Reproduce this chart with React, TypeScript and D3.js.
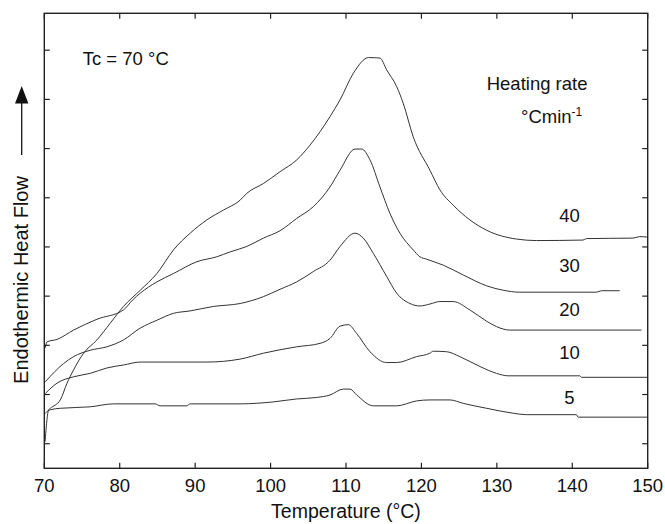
import React from "react";
import * as d3 from "d3";

type Pt = [number, number];

// Temperature (°C) vs endothermic heat flow (arbitrary units, 1 unit = 1 y-tick spacing)
const rate40: Pt[] = [
  [70.1, 0.54], [70.57, 1.19], [70.79, 1.22], [72.12, 1.39], [73.01, 1.73], [73.88, 2.0],
  [75.21, 2.34], [76.98, 2.61], [78.74, 2.95], [80.5, 3.29], [82.72, 3.62], [84.93, 3.96],
  [87.13, 4.44], [89.34, 4.78], [91.55, 5.05], [93.75, 5.25], [95.96, 5.45], [96.85, 5.59],
  [99.05, 5.79], [101.26, 6.03], [103.47, 6.27], [105.23, 6.57], [107.88, 7.15], [109.21, 7.49],
  [110.97, 8.03], [113.0, 8.35], [114.5, 8.34], [115.39, 8.1], [116.72, 7.76], [117.59, 7.42],
  [118.91, 6.74], [121.13, 6.06], [122.45, 5.66], [124.21, 5.35], [126.42, 5.05], [128.64, 4.84],
  [132.61, 4.66], [135.26, 4.63], [141.43, 4.64], [141.88, 4.67], [148.05, 4.68], [148.94, 4.71],
  [150, 4.7],
];
const rate30: Pt[] = [
  [70.13, 2.45], [70.36, 2.57], [71.68, 2.62], [73.88, 2.81], [76.98, 3.03], [80.5, 3.22],
  [81.7, 3.42], [82.72, 3.56], [84.93, 3.79], [87.13, 3.96], [90.23, 4.2], [92.87, 4.3],
  [94.64, 4.4], [96.85, 4.51], [99.05, 4.68], [101.26, 4.83], [103.47, 5.08], [105.67, 5.32],
  [107.88, 5.72], [109.21, 6.06], [111.19, 6.49], [112.08, 6.49], [113.18, 6.27], [114.5, 5.72],
  [115.83, 5.18], [117.15, 4.78], [118.91, 4.44], [119.8, 4.3], [120.69, 4.25], [122.89, 4.13],
  [125.54, 3.93], [128.64, 3.71], [130.83, 3.62], [133.05, 3.58], [143.21, 3.58], [143.87, 3.61],
  [146.29, 3.61],
];
const rate20: Pt[] = [
  [70.13, 1.76], [72.56, 2.13], [73.88, 2.27], [76.09, 2.4], [78.3, 2.47], [80.5, 2.61],
  [82.72, 2.85], [84.93, 3.01], [87.13, 3.15], [89.34, 3.2], [92.42, 3.29], [95.96, 3.35],
  [99.05, 3.49], [101.26, 3.64], [103.47, 3.79], [105.67, 4.0], [107.88, 4.23], [109.21, 4.51],
  [111.19, 4.78], [112.29, 4.68], [113.62, 4.37], [115.39, 3.9], [116.72, 3.56], [118.48, 3.35],
  [119.8, 3.3], [121.13, 3.34], [122.45, 3.39], [124.21, 3.39], [126.42, 3.22], [128.64, 2.99],
  [129.96, 2.88], [131.72, 2.81], [149.17, 2.81],
];
const rate10: Pt[] = [
  [70.13, 1.52], [71.68, 1.73], [73.88, 1.86], [76.09, 1.93], [78.3, 2.04], [80.5, 2.1],
  [82.72, 2.16], [91.55, 2.16], [95.96, 2.22], [99.05, 2.34], [103.47, 2.47], [106.56, 2.54],
  [107.88, 2.64], [109.21, 2.89], [110.3, 2.92], [111.42, 2.74], [113.18, 2.37], [115.39, 2.15],
  [116.72, 2.15], [119.36, 2.27], [121.13, 2.34], [121.56, 2.38], [123.34, 2.37], [125.1, 2.27],
  [127.75, 2.07], [129.96, 1.93], [131.5, 1.88], [140.99, 1.88], [141.22, 1.85], [150, 1.85],
];
const rate5: Pt[] = [
  [70.13, 1.12], [70.79, 1.19], [72.12, 1.22], [76.09, 1.25], [79.18, 1.31], [84.7, 1.31],
  [85.36, 1.27], [88.9, 1.27], [89.34, 1.31], [95.96, 1.31], [100.37, 1.35], [103.47, 1.41],
  [106.12, 1.44], [107.88, 1.49], [109.64, 1.61], [110.53, 1.61], [111.42, 1.49], [113.62, 1.27],
  [116.72, 1.27], [119.36, 1.37], [121.13, 1.39], [123.77, 1.39], [125.54, 1.32], [128.64, 1.22],
  [132.16, 1.12], [133.94, 1.09], [140.56, 1.09], [140.77, 1.04], [150, 1.04],
];

const seriesList = [rate40, rate30, rate20, rate10, rate5];
const rateLabels = ["40", "30", "20", "10", "5"];
const rateLabelY = [5.0, 4.0, 3.1, 2.23, 1.3];

const xTicks = [70, 80, 90, 100, 110, 120, 130, 140, 150];
const yTicks = [0.5, 1.5, 2.5, 3.5, 4.5, 5.5, 6.5, 7.5, 8.5];

const W = 665;
const H = 524;
const L = 44.3, R = 647.7, T = 13.3, B = 468.3;
const FONT = "'Liberation Sans', Arial, Helvetica, sans-serif";

export default function App() {
  const x = d3.scaleLinear().domain([70, 150]).range([L, R]);
  const y = d3.scaleLinear().domain([0, 9.25]).range([B, T]);
  const line = d3
    .line<Pt>()
    .x((d) => x(d[0]))
    .y((d) => y(d[1]))
    .curve(d3.curveMonotoneX);
  const tick = 5.5;
  const ink = "#222";

  return (
    <svg width={W} height={H} style={{ position: "absolute", left: 0, top: 0 }} fontFamily={FONT}>
      <rect x={0} y={0} width={W} height={H} fill="#fff" />
      {seriesList.map((s, i) => (
        <path key={i} d={line(s) || ""} fill="none" stroke="#333" strokeWidth={1} />
      ))}
      {/* frame */}
      <rect x={L} y={T} width={R - L} height={B - T} fill="none" stroke={ink} strokeWidth={1.4} />
      {xTicks.map((t) => (
        <g key={"x" + t}>
          <line x1={x(t)} x2={x(t)} y1={B} y2={B - tick} stroke={ink} strokeWidth={1.2} />
          <line x1={x(t)} x2={x(t)} y1={T} y2={T + tick} stroke={ink} strokeWidth={1.2} />
          <text x={x(t)} y={B + 24} textAnchor="middle" fontSize={18.5} fill="#111">
            {t}
          </text>
        </g>
      ))}
      {yTicks.map((t) => (
        <g key={"y" + t}>
          <line x1={L} x2={L + tick} y1={y(t)} y2={y(t)} stroke={ink} strokeWidth={1.2} />
          <line x1={R} x2={R - tick} y1={y(t)} y2={y(t)} stroke={ink} strokeWidth={1.2} />
        </g>
      ))}
      <text x={(L + R) / 2} y={518} textAnchor="middle" fontSize={19.5} fill="#111">
        Temperature (°C)
      </text>
      <text
        transform={`translate(28.3, 280) rotate(-90)`}
        textAnchor="middle"
        fontSize={20}
        fill="#111"
      >
        Endothermic Heat Flow
      </text>
      <line x1={21.7} x2={21.7} y1={155} y2={100} stroke="#111" strokeWidth={1.3} />
      <path d="M15,103.5 L28.4,103.5 L21.7,86 Z" fill="#111" />
      <text x={82.7} y={64.5} fontSize={18.5} fill="#111">
        Tc = 70 °C
      </text>
      <text x={486.7} y={90} fontSize={18.5} fill="#111">
        Heating rate
      </text>
      <text x={521} y={122.7} fontSize={18.5} fill="#111">
        °Cmin
        <tspan dy={-7} fontSize={12}>
          -1
        </tspan>
      </text>
      {rateLabels.map((lab, i) => (
        <text key={lab} x={569.5} y={y(rateLabelY[i])} textAnchor="middle" fontSize={18.5} fill="#111">
          {lab}
        </text>
      ))}
    </svg>
  );
}
